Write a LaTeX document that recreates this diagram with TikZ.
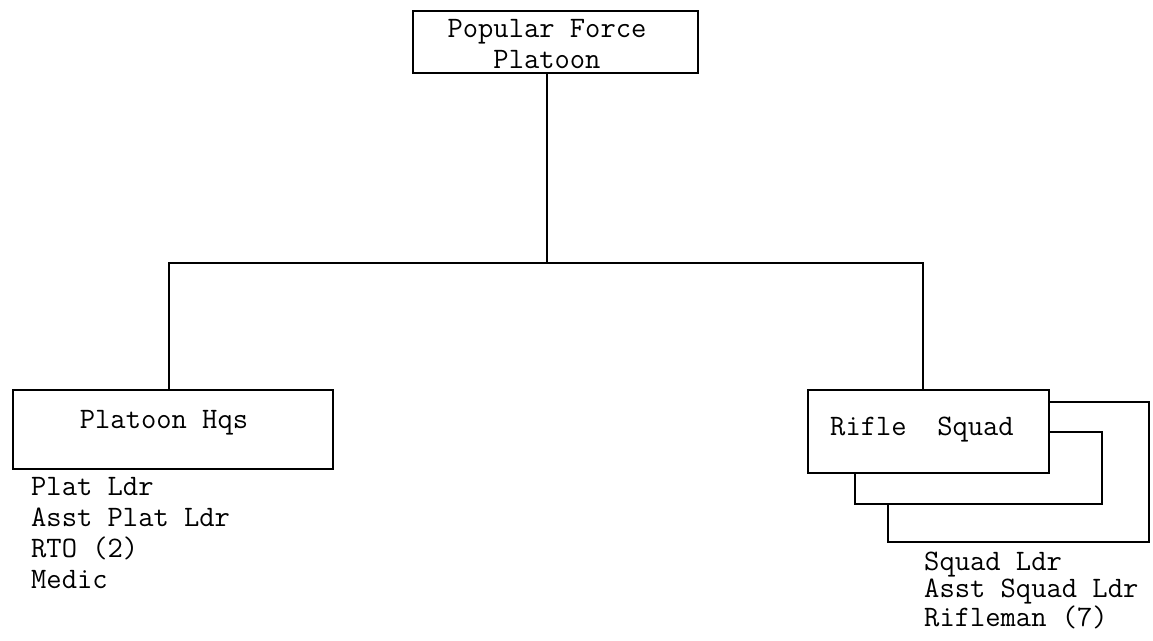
\documentclass[tikz,border=0pt]{standalone}
\usepackage{fontspec}
\tikzset{
	box/.style={draw, fill=white, inner sep=0pt, line width=1.2pt},
	lbl/.style={inner sep=0pt, font=\ttfamily\fontsize{14.85pt}{15.5pt}\selectfont},
}
\begin{document}
\begin{tikzpicture}[x=0.5pt,y=-0.5pt,line width=1.2pt]
		\useasboundingbox[fill=white] (0,0) rectangle (1153,641);
		%Platoon oben
		\node at (555.5,42) [box, minimum width=142.5pt, minimum height=31pt] (pfp) {};
		\node at (547,18) [lbl, anchor=north, align=center] (pfplbl) {Popular Force\\Platoon};
		%Hqs links
		\node at (173,429.5) [box, minimum width=160pt, minimum height=39.5pt] (hq) {};
		\node at (164,429) [lbl, anchor=base] (hqlbl) {Platoon Hqs};
		\node at (30,476) [lbl, anchor=north west, align=left] (hqlist) {Plat Ldr\\Asst Plat Ldr\\RTO (2)\\Medic};
		%Squads rechts (hinten nach vorne)
		\node at (1018.5,472) [box, minimum width=130.5pt, minimum height=70pt] (sq3) {};
		\node at (978.5,468) [box, minimum width=123.5pt, minimum height=36pt] (sq2) {};
		\node at (928.5,431.5) [box, minimum width=120.5pt, minimum height=41.5pt] (sq1) {};
		\node at (922,436) [lbl, anchor=base] (sqlbl) {Rifle\ \ Squad};
		\node at (923,551) [lbl, anchor=north west, align=left, font=\ttfamily\fontsize{14.85pt}{13.5pt}\selectfont] (sqlist) {Squad Ldr\\Asst Squad Ldr\\Rifleman (7)};
		%Verbindungen
		\draw ([xshift=-4.25pt]pfp.south) -- ++(0,189) coordinate (bus);
		\draw ([xshift=-2pt]hq.north) |- (bus) -| ([xshift=-2.75pt]sq1.north);
\end{tikzpicture}
\end{document}
